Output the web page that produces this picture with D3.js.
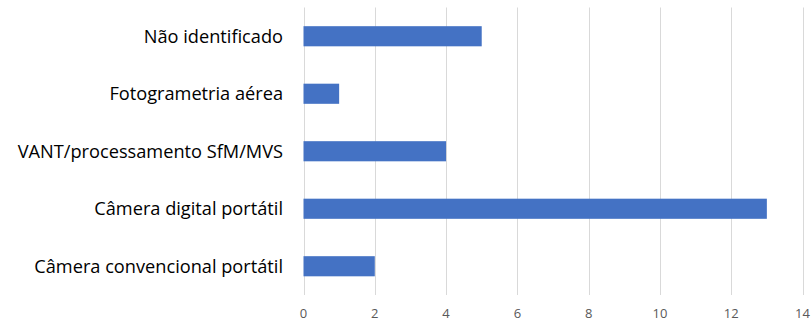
<!DOCTYPE html>
<html>
<head>
<meta charset="utf-8">
<script src="https://cdn.jsdelivr.net/npm/d3@7"></script>
<style>
  body { margin: 0; background: #fff; }
  svg { display: block; }
</style>
</head>
<body>
<svg id="main_chart" width="812" height="321"></svg>
<script>
const categories = [
  'Não identificado',
  'Fotogrametria aérea',
  'VANT/processamento SfM/MVS',
  'Câmera digital portátil',
  'Câmera convencional portátil'
];
const counts = [5, 1, 4, 13, 2];
const x_ticks = [0, 2, 4, 6, 8, 10, 12, 14];

(function() {
  const svg = d3.select('#main_chart');
  const left = 303.5, right = 802.5, top = 7.5, bottom = 295;

  const xScale = d3.scaleLinear().domain([0, 14]).range([left, right]);
  const yScale = d3.scaleBand().domain(categories).range([top, bottom]).paddingInner(0.65).paddingOuter(0.325);

  // vertical gridlines
  svg.append('g').selectAll('line').data(x_ticks).enter().append('line')
    .attr('x1', d => Math.round(xScale(d)) + 0.5)
    .attr('x2', d => Math.round(xScale(d)) + 0.5)
    .attr('y1', top).attr('y2', bottom)
    .attr('stroke', '#d9d9d9').attr('stroke-width', 1);

  // bars
  const rows = categories.map((c, i) => ({ name: c, value: counts[i] }));
  svg.append('g').selectAll('rect').data(rows).enter().append('rect')
    .attr('x', xScale(0))
    .attr('y', d => yScale(d.name))
    .attr('width', d => xScale(d.value) - xScale(0))
    .attr('height', yScale.bandwidth())
    .attr('fill', '#4472c4');

  // x tick labels
  svg.append('g').selectAll('text').data(x_ticks).enter().append('text')
    .attr('x', d => xScale(d))
    .attr('y', 318)
    .attr('text-anchor', 'middle')
    .attr('font-family', 'Open Sans, sans-serif')
    .attr('font-size', 13)
    .attr('fill', '#595959')
    .text(d => d);

  // category labels
  svg.append('g').selectAll('text').data(categories).enter().append('text')
    .attr('x', 283)
    .attr('y', d => yScale(d) + yScale.bandwidth() / 2)
    .attr('dy', '0.35em')
    .attr('text-anchor', 'end')
    .attr('font-family', 'Open Sans, sans-serif')
    .attr('font-size', 18.2)
    .attr('fill', '#000')
    .text(d => d);
}());
</script>
</body>
</html>
